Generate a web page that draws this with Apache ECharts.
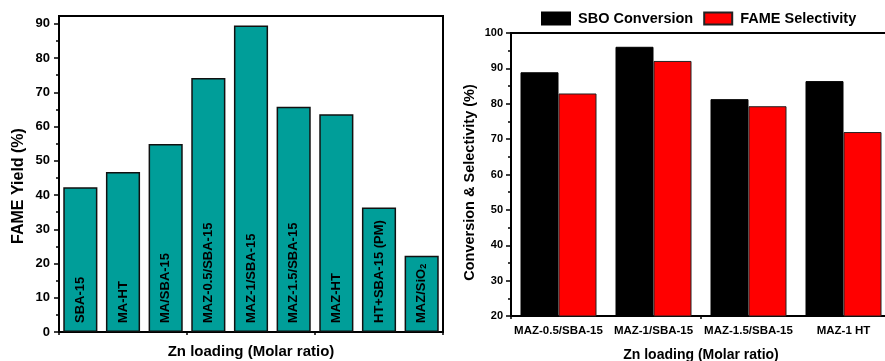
<!DOCTYPE html>
<html>
<head>
<meta charset="utf-8">
<script src="https://cdn.jsdelivr.net/npm/echarts@6/dist/echarts.min.js"></script>
<style>
  html, body { margin: 0; padding: 0; background: #fff; }
  #chart { width: 885px; height: 361px; }
</style>
</head>
<body>
<div id="chart"></div>
<script>
// Left panel: FAME yield per catalyst
const yieldCategories = ['SBA-15', 'MA-HT', 'MA/SBA-15', 'MAZ-0.5/SBA-15', 'MAZ-1/SBA-15',
  'MAZ-1.5/SBA-15', 'MAZ-HT', 'HT+SBA-15 (PM)', 'MAZ/SiO2'];
const fameYield = [42.3, 46.7, 54.9, 74.2, 89.5, 65.8, 63.6, 36.4, 22.3];
const yieldTicks = [0, 10, 20, 30, 40, 50, 60, 70, 80, 90];
const yieldMinorTicks = [5, 15, 25, 35, 45, 55, 65, 75, 85];

// Right panel: conversion and selectivity per catalyst
const convCategories = ['MAZ-0.5/SBA-15', 'MAZ-1/SBA-15', 'MAZ-1.5/SBA-15', 'MAZ-1 HT'];
const sboConversion = [88.9, 96.1, 81.3, 86.4];
const fameSelectivity = [82.9, 92.1, 79.3, 72.0];
const seriesNames = ['SBO Conversion', 'FAME Selectivity'];

const FONT = '"Liberation Sans", Arial, sans-serif';
const INK = '#000';

const chart = echarts.init(document.getElementById('chart'), null, { renderer: 'canvas' });

// Short ticks on the category boundaries, drawn by a second, label-less category axis
function boundaryTickAxis(gridIndex, data) {
  return {
    type: 'category', gridIndex: gridIndex, data: data, boundaryGap: true,
    position: 'bottom',
    axisLine: { show: false },
    axisTick: { show: true, length: 3, lineStyle: { color: INK, width: 1.5 } },
    axisLabel: { show: false },
    splitLine: { show: false }
  };
}

chart.setOption({
  animation: false,
  textStyle: { fontFamily: FONT, color: INK },
  legend: {
    data: seriesNames,
    left: 541, top: 11, padding: 0,
    itemWidth: 28, itemHeight: 12, itemGap: 10,
    icon: 'rect',
    textStyle: { fontFamily: FONT, fontSize: 14.5, fontWeight: 'bold', color: INK, padding: [0, 0, 0, 3] }
  },
  grid: [
    { left: 59, top: 16, width: 384, bottom: 29, outerBoundsMode: 'none', containLabel: false,
      show: true, borderColor: INK, borderWidth: 2, backgroundColor: 'transparent' },
    { left: 511, top: 33, width: 380, bottom: 45, outerBoundsMode: 'none', containLabel: false,
      show: true, borderColor: INK, borderWidth: 2, backgroundColor: 'transparent' }
  ],
  xAxis: [
    {
      type: 'category', gridIndex: 0, data: yieldCategories, position: 'bottom',
      name: 'Zn loading (Molar ratio)', nameLocation: 'middle', nameGap: 12,
      nameTextStyle: { fontFamily: FONT, fontSize: 15, fontWeight: 'bold', color: INK },
      axisLine: { lineStyle: { color: INK, width: 2 } },
      axisTick: { alignWithLabel: true, length: 5, lineStyle: { color: INK, width: 1.5 } },
      axisLabel: { show: false },
      splitLine: { show: false }
    },
    boundaryTickAxis(0, yieldCategories),
    {
      type: 'category', gridIndex: 1, data: convCategories, position: 'bottom',
      name: 'Zn loading (Molar ratio)', nameLocation: 'middle', nameGap: 32,
      nameTextStyle: { fontFamily: FONT, fontSize: 14, fontWeight: 'bold', color: INK },
      axisLine: { lineStyle: { color: INK, width: 2 } },
      axisTick: { alignWithLabel: true, length: 5, lineStyle: { color: INK, width: 1.5 } },
      axisLabel: { interval: 0, margin: 9, fontFamily: FONT, fontSize: 11.5, fontWeight: 'bold', color: INK },
      splitLine: { show: false }
    },
    boundaryTickAxis(1, convCategories)
  ],
  yAxis: [
    {
      type: 'value', gridIndex: 0, min: 0, max: 92.3, position: 'left',
      name: 'FAME Yield (%)', nameLocation: 'middle', nameGap: 32,
      nameTextStyle: { fontFamily: FONT, fontSize: 16, fontWeight: 'bold', color: INK, padding: [0, 24, 0, 0] },
      axisLine: { show: true, lineStyle: { color: INK, width: 2 } },
      axisTick: { show: true, length: 5, customValues: yieldTicks, lineStyle: { color: INK, width: 1.5 } },
      axisLabel: { customValues: yieldTicks, margin: 9, fontFamily: FONT, fontSize: 13, fontWeight: 'bold', color: INK },
      splitLine: { show: false }
    },
    {
      type: 'value', gridIndex: 0, min: 0, max: 92.3, position: 'left',
      axisLine: { show: false },
      axisTick: { show: true, length: 3, customValues: yieldMinorTicks, lineStyle: { color: INK, width: 1.5 } },
      axisLabel: { show: false },
      splitLine: { show: false }
    },
    {
      type: 'value', gridIndex: 1, min: 20, max: 100, interval: 10, position: 'left',
      name: 'Conversion & Selectivity (%)', nameLocation: 'middle', nameGap: 34,
      nameTextStyle: { fontFamily: FONT, fontSize: 14.5, fontWeight: 'bold', color: INK, padding: [0, 16, 0, 0] },
      axisLine: { show: true, lineStyle: { color: INK, width: 2 } },
      axisTick: { show: true, length: 5, lineStyle: { color: INK, width: 1.5 } },
      minorTick: { show: true, splitNumber: 2, length: 3, lineStyle: { color: INK, width: 1.5 } },
      axisLabel: { margin: 8, fontFamily: FONT, fontSize: 11, fontWeight: 'bold', color: INK },
      splitLine: { show: false },
      minorSplitLine: { show: false }
    }
  ],
  series: [
    {
      type: 'bar', xAxisIndex: 0, yAxisIndex: 0,
      data: fameYield,
      barCategoryGap: '20%',
      itemStyle: { color: '#009E99', borderColor: '#111', borderWidth: 1.5 },
      label: {
        show: true, position: 'insideBottom', distance: 9, rotate: 90,
        align: 'left', verticalAlign: 'middle',
        fontFamily: FONT, fontSize: 13, fontWeight: 'bold', color: INK,
        formatter: function (p) { return p.name.replace('SiO2', 'SiO{sub|2}'); },
        rich: {
          sub: { fontFamily: FONT, fontSize: 9, fontWeight: 'bold', color: INK, verticalAlign: 'bottom' }
        }
      }
    },
    {
      name: seriesNames[0], type: 'bar', xAxisIndex: 2, yAxisIndex: 2,
      data: sboConversion,
      barGap: '0%', barCategoryGap: '20%',
      itemStyle: { color: '#000000', borderColor: '#000', borderWidth: 1 }
    },
    {
      name: seriesNames[1], type: 'bar', xAxisIndex: 2, yAxisIndex: 2,
      data: fameSelectivity,
      barGap: '0%', barCategoryGap: '20%',
      itemStyle: { color: '#FF0000', borderColor: '#222', borderWidth: 1 }
    }
  ]
});
</script>
</body>
</html>
